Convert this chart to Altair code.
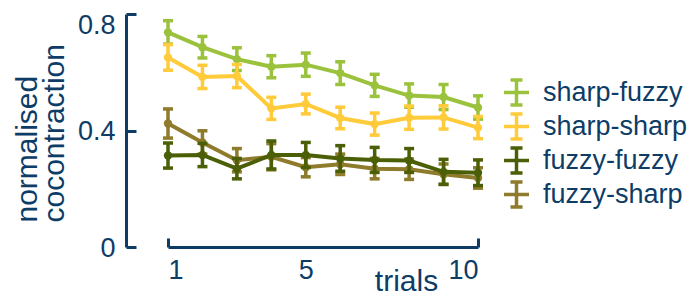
import altair as alt
import pandas as pd

trials = [1, 2, 3, 4, 5, 6, 7, 8, 9, 10]
series_names = ["sharp-fuzzy", "sharp-sharp", "fuzzy-fuzzy", "fuzzy-sharp"]
series_colors = ["#9bc23c", "#ffcb3a", "#4b5f06", "#8e7b2b"]

sharp_fuzzy = [0.737, 0.686, 0.645, 0.619, 0.626, 0.597, 0.555, 0.520, 0.515, 0.479]
sharp_sharp = [0.651, 0.584, 0.587, 0.476, 0.491, 0.443, 0.422, 0.444, 0.445, 0.410]
fuzzy_fuzzy = [0.314, 0.316, 0.269, 0.316, 0.316, 0.304, 0.299, 0.297, 0.258, 0.255]
fuzzy_sharp = [0.424, 0.359, 0.298, 0.310, 0.274, 0.284, 0.269, 0.267, 0.250, 0.237]

sharp_fuzzy_err = [0.040, 0.037, 0.039, 0.038, 0.040, 0.039, 0.038, 0.040, 0.043, 0.040]
sharp_sharp_err = [0.044, 0.040, 0.040, 0.038, 0.034, 0.037, 0.038, 0.040, 0.040, 0.038]
fuzzy_fuzzy_err = [0.043, 0.040, 0.035, 0.048, 0.043, 0.044, 0.043, 0.041, 0.043, 0.044]
fuzzy_sharp_err = [0.050, 0.040, 0.040, 0.045, 0.033, 0.035, 0.035, 0.035, 0.035, 0.035]

x_ticks = [1, 5, 10]
y_ticks = [0, 0.4, 0.8]

TEXT = "#0d3c66"
FONT = "Liberation Sans"

values = {
    "sharp-fuzzy": (sharp_fuzzy, sharp_fuzzy_err),
    "sharp-sharp": (sharp_sharp, sharp_sharp_err),
    "fuzzy-sharp": (fuzzy_sharp, fuzzy_sharp_err),
    "fuzzy-fuzzy": (fuzzy_fuzzy, fuzzy_fuzzy_err),
}
rows = []
for name, (vals, errs) in values.items():
    for t, v, e in zip(trials, vals, errs):
        rows.append({"trial": t, "value": v, "lo": v - e, "hi": v + e, "series": name})
df = pd.DataFrame(rows)

x_enc = alt.X(
    "trial:Q",
    scale=alt.Scale(domain=[1, 10], range=[42, 352], nice=False, zero=False),
    axis=alt.Axis(
        values=x_ticks,
        title="trials",
        titleX=280,
        titleY=43,
        titleAlign="center",
        titleBaseline="alphabetic",
        titleFontSize=30,
        labelFontSize=27,
        labelPadding=19,
        tickSize={"expr": "-9"},
        tickOpacity={"condition": {"test": "datum.value === 5", "value": 0}, "value": 1},
        grid=False,
    ),
)
y_scale = alt.Scale(domain=[0, 0.8], nice=False, zero=True)
y_axis = alt.Axis(
    values=y_ticks,
    format=".1~f",
    title=["normalised", "cocontraction"],
    titleAngle=-90,
    titleAlign="left",
    titleBaseline="alphabetic",
    titleX=-90,
    titleY=208,
    titleLineHeight=27,
    titleFontSize=30,
    labelFontSize=27,
    labelPadding=21,
    labelOffset={"condition": {"test": "datum.value === 0.8", "value": 11}, "value": 1},
    tickSize={"expr": "-10"},
    grid=False,
)

color_enc = alt.Color(
    "series:N",
    scale=alt.Scale(domain=series_names, range=series_colors),
    legend=alt.Legend(
        title=None,
        orient="none",
        legendX=376,
        legendY=64,
        symbolType="M-0.48,-1H0.48M0,-1V1M-0.48,1H0.48M-1,0H1",
        symbolSize=625,
        symbolStrokeWidth=3.5,
        labelFontSize=27,
        labelOffset=12,
        rowPadding=-5,
        labelFont=FONT,
        labelColor=TEXT,
    ),
)

order = ["sharp-fuzzy", "sharp-sharp", "fuzzy-sharp", "fuzzy-fuzzy"]
cmap = dict(zip(series_names, series_colors))
base = alt.Chart(df)
layers = []
for name in order:
    col = cmap[name]
    b = base.transform_filter(alt.datum.series == name)
    rule = b.mark_rule(strokeWidth=3.5).encode(
        x=x_enc, y=alt.Y("lo:Q", scale=y_scale, axis=y_axis), y2="hi:Q", color=color_enc
    )
    cap_lo = b.mark_tick(orient="horizontal", size=10, thickness=3.5, color=col, opacity=1).encode(
        x=x_enc, y=alt.Y("lo:Q", scale=y_scale, axis=y_axis)
    )
    cap_hi = b.mark_tick(orient="horizontal", size=10, thickness=3.5, color=col, opacity=1).encode(
        x=x_enc, y=alt.Y("hi:Q", scale=y_scale, axis=y_axis)
    )
    line = b.mark_line(strokeWidth=4, color=col).encode(
        x=x_enc, y=alt.Y("value:Q", scale=y_scale, axis=y_axis)
    )
    pts = b.mark_circle(size=70, opacity=1, color=col).encode(
        x=x_enc, y=alt.Y("value:Q", scale=y_scale, axis=y_axis)
    )
    layers += [line, rule, cap_lo, cap_hi, pts]

chart = (
    alt.layer(*layers)
    .properties(
        width=360,
        height=233,
        autosize=alt.AutoSizeParams(type="none"),
        padding={"left": 118, "top": 6, "right": 204, "bottom": 51},
    )
    .configure_view(stroke=None)
    .configure_axis(
        domainColor=TEXT,
        domainWidth=3,
        tickColor=TEXT,
        tickWidth=3,
        labelColor=TEXT,
        titleColor=TEXT,
        labelFont=FONT,
        titleFont=FONT,
        titleFontWeight="normal",
    )
)

chart.save("out.html", embed_options={"renderer": "svg", "actions": False})
